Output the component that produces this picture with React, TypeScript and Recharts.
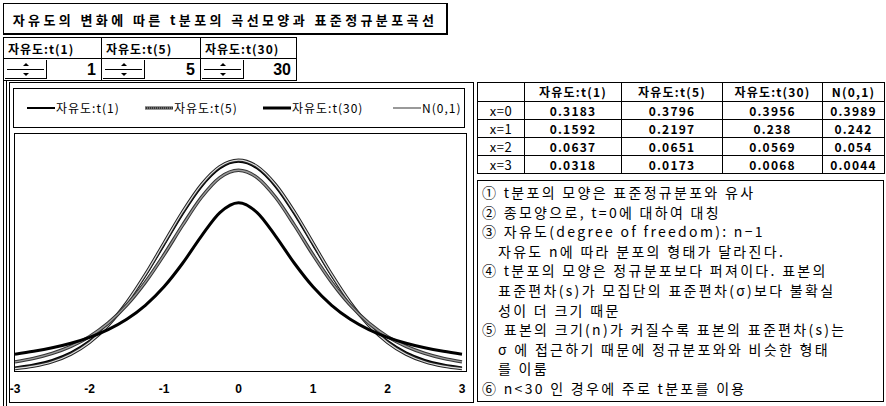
import React from 'react';
import { LineChart, Line, XAxis, YAxis } from 'recharts';

// curve samples, x from -3 to 3 every 0.25
const xValues = [-3, -2.75, -2.5, -2.25, -2, -1.75, -1.5, -1.25, -1, -0.75, -0.5, -0.25, 0, 0.25, 0.5, 0.75, 1, 1.25, 1.5, 1.75, 2, 2.25, 2.5, 2.75, 3];
const t1Values = [0.0318, 0.0372, 0.0439, 0.0525, 0.0637, 0.0784, 0.0979, 0.1242, 0.1592, 0.2037, 0.2546, 0.2996, 0.3183, 0.2996, 0.2546, 0.2037, 0.1592, 0.1242, 0.0979, 0.0784, 0.0637, 0.0525, 0.0439, 0.0372, 0.0318];
const t5Values = [0.0173, 0.0239, 0.0333, 0.0466, 0.0651, 0.0905, 0.1245, 0.1679, 0.2197, 0.2757, 0.3279, 0.3657, 0.3796, 0.3657, 0.3279, 0.2757, 0.2197, 0.1679, 0.1245, 0.0905, 0.0651, 0.0466, 0.0333, 0.0239, 0.0173];
const t30Values = [0.0068, 0.0121, 0.0211, 0.0353, 0.0569, 0.0877, 0.1289, 0.1801, 0.238, 0.2966, 0.3479, 0.383, 0.3956, 0.383, 0.3479, 0.2966, 0.238, 0.1801, 0.1289, 0.0877, 0.0569, 0.0353, 0.0211, 0.0121, 0.0068];
const normValues = [0.0044, 0.0091, 0.0175, 0.0317, 0.054, 0.0863, 0.1295, 0.1826, 0.242, 0.3011, 0.3521, 0.3867, 0.3989, 0.3867, 0.3521, 0.3011, 0.242, 0.1826, 0.1295, 0.0863, 0.054, 0.0317, 0.0175, 0.0091, 0.0044];
const xTicks = [-3, -2, -1, 0, 1, 2, 3];

const seriesNames = ['자유도:t(1)', '자유도:t(5)', '자유도:t(30)', 'N(0,1)'];
const degrees = [1, 5, 30];

const tableRowLabels = ['x=0', 'x=1', 'x=2', 'x=3'];
const tableT1 = [0.3183, 0.1592, 0.0637, 0.0318];
const tableT5 = [0.3796, 0.2197, 0.0651, 0.0173];
const tableT30 = [0.3956, 0.238, 0.0569, 0.0068];
const tableNorm = [0.3989, 0.242, 0.054, 0.0044];

const title = '자유도의 변화에 따른 t분포의 곡선모양과 표준정규분포곡선';
const notes = [
  { text: '① t분포의 모양은 표준정규분포와 유사', indent: false },
  { text: '② 종모양으로, t=0에 대하여 대칭', indent: false },
  { text: '③ 자유도(degree of freedom): n−1', indent: false },
  { text: '자유도 n에 따라 분포의 형태가 달라진다.', indent: true },
  { text: '④ t분포의 모양은 정규분포보다 퍼져이다. 표본의', indent: false },
  { text: '표준편차(s)가 모집단의 표준편차(σ)보다 불확실', indent: true },
  { text: '성이 더 크기 때문', indent: true },
  { text: '⑤ 표본의 크기(n)가 커질수록 표본의 표준편차(s)는', indent: false },
  { text: 'σ 에 접근하기 때문에 정규분포와와 비슷한 형태', indent: true },
  { text: '를 이룸', indent: true },
  { text: '⑥ n<30 인 경우에 주로 t분포를 이용', indent: false },
];

const chartData = xValues.map((x, i) => ({
  x,
  t1: t1Values[i],
  t5: t5Values[i],
  t30: t30Values[i],
  norm: normValues[i],
}));

const KO = '"Noto Sans CJK KR", "DejaVu Sans", sans-serif';
const LATIN = '"Liberation Sans", Arial, sans-serif';

const box = (left: number, top: number, width: number, height: number): React.CSSProperties => ({
  position: 'absolute',
  left,
  top,
  width,
  height,
  border: '1px solid #000',
  boxSizing: 'border-box',
});

function Spinner({ left, width, value }: { left: number; width: number; value: number }) {
  return (
    <div style={box(left, 58, width, 23)}>
      <div style={{ position: 'absolute', left: 1, top: 1, width: 42, height: 19, borderRight: '1px solid #000', borderBottom: '1px solid #000', boxSizing: 'border-box' }}>
        <div style={{ position: 'absolute', left: 2, right: 2, top: 9, borderTop: '1px solid #000' }} />
        <div style={{ position: 'absolute', left: 18, top: 3, width: 0, height: 0, borderLeft: '3px solid transparent', borderRight: '3px solid transparent', borderBottom: '3px solid #000' }} />
        <div style={{ position: 'absolute', left: 18, top: 13, width: 0, height: 0, borderLeft: '3px solid transparent', borderRight: '3px solid transparent', borderTop: '3px solid #000' }} />
      </div>
      <div style={{ position: 'absolute', right: 5, top: 1, fontFamily: LATIN, fontWeight: 'bold', fontSize: 16, lineHeight: '20px' }}>{value}</div>
    </div>
  );
}

const legendLeft = [27, 145, 263, 393];

function LegendSwatch({ idx }: { idx: number }) {
  if (idx === 1) {
    return (
      <svg width={28} height={6} style={{ display: 'block' }}>
        <line x1={0} y1={3} x2={28} y2={3} stroke="#333" strokeWidth={3} />
        <line x1={0} y1={3} x2={28} y2={3} stroke="#aaa" strokeWidth={1} strokeDasharray="1 1" />
      </svg>
    );
  }
  if (idx === 3) {
    return (
      <svg width={28} height={6} style={{ display: 'block' }}>
        <line x1={0} y1={3} x2={28} y2={3} stroke="#777" strokeWidth={1.5} />
      </svg>
    );
  }
  return (
    <svg width={28} height={6} style={{ display: 'block' }}>
      <line x1={0} y1={3} x2={28} y2={3} stroke="#000" strokeWidth={idx === 2 ? 3 : 2} />
    </svg>
  );
}

const colWidths = [47, 97, 101, 100, 62];
const tableCols = [tableT1, tableT5, tableT30, tableNorm];

export default function App() {
  const cellStyle: React.CSSProperties = {
    border: '1px solid #000',
    padding: 0,
    textAlign: 'center',
    fontFamily: KO,
    fontWeight: 'bold',
    fontSize: 12,
    letterSpacing: 1.2,
    whiteSpace: 'nowrap',
    lineHeight: '14px',
    height: 17,
  };
  return (
    <div style={{ position: 'absolute', left: 0, top: 0, width: 886, height: 406, background: '#fff', overflow: 'hidden', fontFamily: KO, color: '#000' }}>
      {/* title */}
      <div style={{ ...box(3, 3, 445, 32), borderRightWidth: 2, borderBottomWidth: 2 }}>
        <div style={{ position: 'absolute', left: 0, right: 0, top: 6, textAlign: 'center', fontWeight: 'bold', fontSize: 13, letterSpacing: 3.4, whiteSpace: 'nowrap' }}>{title}</div>
      </div>

      {/* frame left edge */}
      <div style={{ position: 'absolute', left: 3, top: 37, width: 0, height: 369, borderLeft: '1px solid #000' }} />
      <div style={{ position: 'absolute', left: 6, top: 80, width: 0, height: 326, borderLeft: '1px solid #000' }} />

      {/* degree of freedom spinners */}
      {degrees.map((d, i) => {
        const lefts = [3, 101, 200];
        const widths = [99, 100, 97];
        return (
          <React.Fragment key={d}>
            <div style={box(lefts[i], 37, widths[i], 22)}>
              <div style={{ position: 'absolute', left: 4, top: 2, fontWeight: 'bold', fontSize: 12, letterSpacing: 1, whiteSpace: 'nowrap' }}>{seriesNames[i]}</div>
            </div>
            <Spinner left={lefts[i]} width={widths[i]} value={d} />
          </React.Fragment>
        );
      })}

      {/* chart frame */}
      <div style={box(9, 82, 465, 321)} />
      <div style={box(13, 88, 452, 40)}>
        {seriesNames.map((name, i) => (
          <div key={name} style={{ position: 'absolute', left: legendLeft[i] - 14, top: 10, display: 'flex', alignItems: 'center', whiteSpace: 'nowrap' }}>
            <LegendSwatch idx={i} />
            <span style={{ fontSize: 12, letterSpacing: 1, marginLeft: 1 }}>{name}</span>
          </div>
        ))}
      </div>
      <div style={box(14, 133, 453, 239)} />

      <div style={{ position: 'absolute', left: 0, top: 0 }}>
        <LineChart width={480} height={406} data={chartData} margin={{ top: 133, right: 18, bottom: 5, left: 15 }}>
          <XAxis
            type="number"
            dataKey="x"
            domain={[-3, 3]}
            ticks={xTicks}
            interval={0}
            axisLine={false}
            tickLine={false}
            tickMargin={7}
            height={30}
            tick={{ fontSize: 12, fontWeight: 'bold', fill: '#000', fontFamily: LATIN }}
          />
          <YAxis hide width={0} domain={[0, 0.45]} />
          <Line type="monotone" dataKey="t30" stroke="#000" strokeWidth={2} dot={false} isAnimationActive={false} />
          <Line type="monotone" dataKey="norm" stroke="#222" strokeWidth={3.2} dot={false} isAnimationActive={false} />
          <Line type="monotone" dataKey="norm" stroke="#ddd" strokeWidth={1.2} dot={false} isAnimationActive={false} />
          <Line type="monotone" dataKey="t5" stroke="#333" strokeWidth={3.4} dot={false} isAnimationActive={false} />
          <Line type="monotone" dataKey="t5" stroke="#999" strokeWidth={1.4} dot={false} isAnimationActive={false} />
          <Line type="monotone" dataKey="t1" stroke="#000" strokeWidth={3} dot={false} isAnimationActive={false} />
        </LineChart>
      </div>

      {/* value table */}
      <table style={{ position: 'absolute', left: 477, top: 82, width: 407, borderCollapse: 'collapse', tableLayout: 'fixed' }}>
        <colgroup>
          {colWidths.map((w, i) => <col key={i} style={{ width: w }} />)}
        </colgroup>
        <tbody>
          <tr>
            <td style={{ ...cellStyle, height: 18 }}></td>
            {seriesNames.map((n) => <td key={n} style={{ ...cellStyle, height: 18 }}>{n}</td>)}
          </tr>
          {tableRowLabels.map((label, r) => (
            <tr key={label}>
              <td style={{ ...cellStyle, fontWeight: 'normal', fontSize: 13, letterSpacing: 0.5 }}>{label}</td>
              {tableCols.map((col, c) => (
                <td key={c} style={cellStyle}>{String(col[r])}</td>
              ))}
            </tr>
          ))}
        </tbody>
      </table>

      {/* notes */}
      <div style={box(477, 180, 407, 222)}>
        <div style={{ position: 'absolute', left: 4, top: 2 }}>
          {notes.map((n, i) => (
            <div key={i} style={{ fontSize: 14, lineHeight: '19.6px', letterSpacing: 2.3, whiteSpace: 'nowrap', paddingLeft: n.indent ? 16 : 0 }}>{n.text}</div>
          ))}
        </div>
      </div>
    </div>
  );
}
